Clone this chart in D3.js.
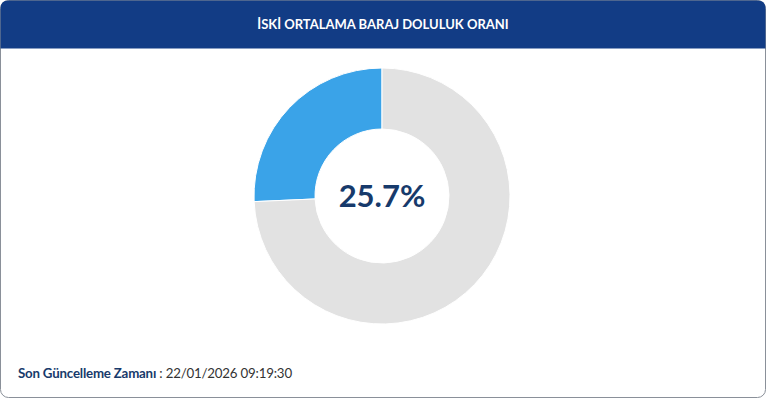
<!DOCTYPE html><html><head><meta charset="utf-8"><script src="https://cdn.jsdelivr.net/npm/d3@7"></script>
<style>body{margin:0;background:#fff;font-family:Lato,"Open Sans",sans-serif}</style></head><body><svg id="c" width="770" height="408"></svg>
<script>
const title="İSKİ ORTALAMA BARAJ DOLULUK ORANI";
const categories=["Dolu","Boş"];
const values=[25.7,74.3];
const footLabel="Son Güncelleme Zamanı";
const footValue=" : 22/01/2026 09:19:30";
const svg=d3.select("#c");
svg.append("rect").attr("x",0.5).attr("y",0.5).attr("width",765).attr("height",397).attr("rx",8).attr("fill","#fff").attr("stroke","#8a9099");
svg.append("path").attr("d","M0.5,48.5 V8.5 Q0.5,0.5 8.5,0.5 H757.5 Q765.5,0.5 765.5,8.5 V48.5 Z").attr("fill","#123c85");
svg.append("text").attr("x",383).attr("y",29).attr("text-anchor","middle").attr("fill","#fff").attr("font-size",13).attr("font-weight",700).text(title);
const pie=d3.pie().sort(null).startAngle(0).endAngle(-2*Math.PI)(values);
const arc=d3.arc().innerRadius(67).outerRadius(128);
const col=d3.scaleOrdinal().domain(categories).range(["#3aa3e8","#e2e2e2"]);
const g=svg.append("g").attr("transform","translate(382,196)");
g.selectAll("path").data(pie).join("path").attr("d",arc).attr("fill",(d,i)=>col(categories[i])).attr("stroke","#fff").attr("stroke-width",1);
g.append("text").attr("y",11).attr("text-anchor","middle").attr("fill","#173a6b").attr("font-size",31).attr("font-weight",700).text(values[0]+"%");
const t=svg.append("text").attr("x",18).attr("y",378).attr("font-size",13.3).attr("letter-spacing",-0.2).attr("fill","#173a6b");
t.append("tspan").attr("font-weight",700).text(footLabel);
t.append("tspan").attr("fill","#333").text(footValue);
</script></body></html>
